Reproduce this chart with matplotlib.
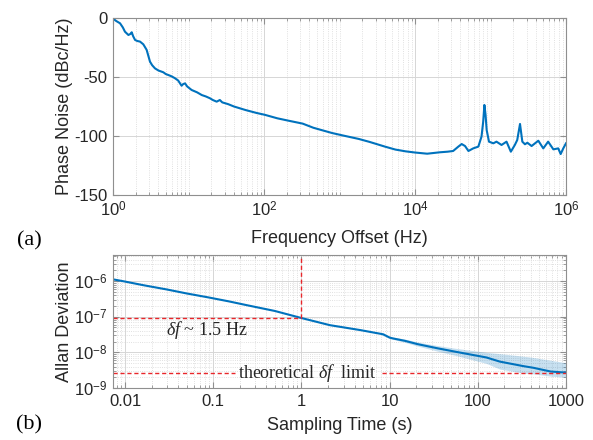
import numpy as np
import matplotlib
matplotlib.use('Agg')
import matplotlib.pyplot as plt
from matplotlib.ticker import FixedLocator, LogLocator, NullFormatter, FixedFormatter, NullLocator

plt.rcParams['font.family'] = ['Liberation Sans', 'DejaVu Sans']
plt.rcParams['mathtext.fontset'] = 'custom'
plt.rcParams['mathtext.rm'] = 'Liberation Sans'
plt.rcParams['mathtext.it'] = 'Liberation Serif:italic'
plt.rcParams['mathtext.bf'] = 'Liberation Sans:bold'

# (a) phase noise
freq = [1, 1.1, 1.24, 1.35, 1.44, 1.6, 1.7, 1.77, 1.85, 1.96, 2.1, 2.28, 2.52, 2.79,
        3.09, 3.3, 3.6, 4.0, 4.64, 5.0, 5.4, 6.0, 6.6, 7.3, 8.1, 8.5, 9, 9.6, 11, 13,
        15, 17, 19.2, 21, 23.6, 26, 28, 33.5, 40, 57, 80, 102, 150, 210, 325, 450, 580,
        800, 1100, 1800, 2500, 4000, 5500, 7500, 1e4, 1.45e4, 2.14e4, 2.7e4, 3.2e4,
        3.75e4, 4.15e4, 4.6e4, 5.1e4, 5.9e4, 6.9e4, 7.6e4, 8.0e4, 8.3e4, 8.6e4, 8.9e4,
        9.55e4, 1.09e5, 1.2e5, 1.4e5, 1.63e5, 1.86e5, 2.1e5, 2.26e5, 2.46e5, 2.64e5,
        2.86e5, 3.08e5, 3.5e5, 4.3e5, 5.0e5, 5.8e5, 6.8e5, 7.9e5, 8.5e5, 9.2e5, 1e6]
phase_noise = [-0.5, -2.5, -4.5, -8, -11.6, -14.4, -13.5, -12.1, -15.5, -18.6, -19.5,
               -20, -22.3, -27, -37, -40, -42.7, -44.5, -46, -47.5, -48.3, -49.5, -51,
               -53, -57.4, -56, -55.4, -58, -61, -63, -65.3, -66.5, -68, -69.5, -70.9,
               -69.5, -71.5, -73, -75, -78, -80.5, -82, -85, -87, -89.5, -93, -95, -97.5,
               -99.5, -102.5, -105, -109, -111.5, -113, -114, -115, -113.8, -113.3,
               -112.7, -109, -106.8, -108.5, -112.7, -110.5, -109, -100.6, -88, -73.7,
               -82, -95, -104.8, -106.2, -104.8, -107.6, -104.8, -113.3, -107.6, -103.4,
               -89.8, -104.8, -107, -105.7, -108.5, -104, -110.5, -104.8, -111.3, -110.5,
               -115.3, -110.5, -106.2]

# (b) Allan deviation
tau = [0.0073, 0.01, 0.016, 0.03, 0.05, 0.089, 0.15, 0.24, 0.5, 1, 2.1, 4.7, 7, 8,
       8.5, 10, 10.9, 15, 20.8, 35, 56, 125, 178, 330, 425, 670, 1000]
adev = [1.12e-6, 9.7e-7, 7.7e-7, 5.8e-7, 4.5e-7, 3.47e-7, 2.7e-7, 2.11e-7, 1.45e-7,
        9.2e-8, 5.8e-8, 4.2e-8, 3.5e-8, 3.3e-8, 3.2e-8, 2.6e-8, 2.46e-8, 2.1e-8,
        1.7e-8, 1.3e-8, 1.04e-8, 7.2e-9, 5.5e-9, 4.1e-9, 3.7e-9, 2.9e-9, 2.7e-9]
tau_ci = [8, 10, 15, 20.8, 35, 56, 125, 178, 330, 425, 670, 1000]
ci_lo = [3.1e-8, 2.45e-8, 1.9e-8, 1.5e-8, 1.08e-8, 8.2e-9, 4.9e-9, 3.4e-9, 2.6e-9,
         2.5e-9, 2.15e-9, 2.0e-9]
ci_hi = [3.4e-8, 2.8e-8, 2.35e-8, 1.95e-8, 1.55e-8, 1.3e-8, 1.0e-8, 9.2e-9, 7.8e-9,
         7.2e-9, 6.0e-9, 5.1e-9]

adev_at_1s = 9.2e-8
adev_limit = 2.6e-9

blue = '#0072BD'
red = '#E8262A'
spine = '#8f8f8f'
txt = '#262626'

fig = plt.figure(figsize=(5.93, 4.40), dpi=100)
ax1 = fig.add_axes([113 / 593, 1 - 195 / 440, 453 / 593, 177 / 440])
ax2 = fig.add_axes([113 / 593, 1 - 388 / 440, 453 / 593, 133 / 440])


def style(ax):
    for s in ax.spines.values():
        s.set_color(spine)
        s.set_linewidth(0.8)
    ax.tick_params(which='both', direction='in', top=True, right=True,
                   color=spine, labelcolor=txt, labelsize=12, pad=4)
    ax.tick_params(which='major', length=4)
    ax.tick_params(which='minor', length=2.5)
    ax.grid(True, which='major', color='#d6d6d6', lw=0.7, ls='-')
    ax.grid(True, which='minor', color='#d6d6d6', lw=0.6, ls=':')
    ax.set_axisbelow(True)


# top panel
ax1.semilogx(freq, phase_noise, color=blue, lw=1.5)
ax1.set_xlim(1, 1e6)
ax1.set_ylim(-150, 0)
style(ax1)
ax1.xaxis.set_major_locator(FixedLocator([1, 1e2, 1e4, 1e6]))
ax1.xaxis.set_major_formatter(FixedFormatter([r'$10^0$', r'$10^2$', r'$10^4$', r'$10^6$']))
ax1.xaxis.set_minor_locator(LogLocator(base=10, subs=np.arange(1, 10), numticks=50))
ax1.xaxis.set_minor_formatter(NullFormatter())
ax1.set_yticks([-150, -100, -50, 0])
ax1.set_yticklabels(['-150', '-100', '-50', '0'])
ax1.yaxis.set_minor_locator(NullLocator())
ax1.set_xlabel('Frequency Offset (Hz)', fontsize=13, color=txt)
ax1.set_ylabel('Phase Noise (dBc/Hz)', fontsize=13, color=txt)
ax1.xaxis.set_label_coords(0.5, -0.20)
ax1.yaxis.set_label_coords(-0.088, 0.5)

# bottom panel
ax2.fill_between(tau_ci, ci_lo, ci_hi, color=blue, alpha=0.22, lw=0)
ax2.loglog(tau, adev, color=blue, lw=1.5)
ax2.set_xlim(0.0073, 1000)
ax2.set_ylim(1e-9, 5.4e-6)
style(ax2)
ax2.set_xticks([0.01, 0.1, 1, 10, 100, 1000])
ax2.set_xticklabels(['0.01', '0.1', '1', '10', '100', '1000'])
ax2.xaxis.set_minor_locator(LogLocator(base=10, subs=np.arange(1, 10), numticks=50))
ax2.xaxis.set_minor_formatter(NullFormatter())
ax2.set_yticks([1e-9, 1e-8, 1e-7, 1e-6])
ax2.set_yticklabels([r'$10^{-9}$', r'$10^{-8}$', r'$10^{-7}$', r'$10^{-6}$'])
ax2.yaxis.set_minor_locator(LogLocator(base=10, subs=np.arange(1, 10), numticks=50))
ax2.yaxis.set_minor_formatter(NullFormatter())
ax2.set_xlabel('Sampling Time (s)', fontsize=13, color=txt)
ax2.set_ylabel('Allan Deviation', fontsize=13, color=txt)
ax2.xaxis.set_label_coords(0.5, -0.215)
ax2.yaxis.set_label_coords(-0.088, 0.5)

# annotations
dash = dict(color=red, lw=1.0, ls=(0, (3, 2)))
ax2.plot([0.0073, 1], [adev_at_1s, adev_at_1s], **dash)
ax2.plot([1, 1], [adev_at_1s, 5.4e-6], **dash)
ax2.plot([0.0073, 0.177], [adev_limit, adev_limit], **dash)
ax2.plot([8.2, 1000], [adev_limit, adev_limit], **dash)
ax2.text(0.085, 4.2e-8, r'$\delta f$' + ' ~ 1.5 Hz', family='Liberation Serif',
         fontsize=13, ha='center', va='center', color=txt)
ax2.text(1.16, adev_limit, 'theoretical ' + r'$\delta f$' + '  limit',
         family='Liberation Serif', fontsize=13, ha='center', va='center', color=txt)

fig.text(29 / 593, 1 - 241 / 440, '(a)', family='Liberation Serif', fontsize=16,
         ha='center', va='center', color='black')
fig.text(29 / 593, 1 - 425 / 440, '(b)', family='Liberation Serif', fontsize=16,
         ha='center', va='center', color='black')

fig.savefig('out.png', dpi=100)
plt.close(fig)
